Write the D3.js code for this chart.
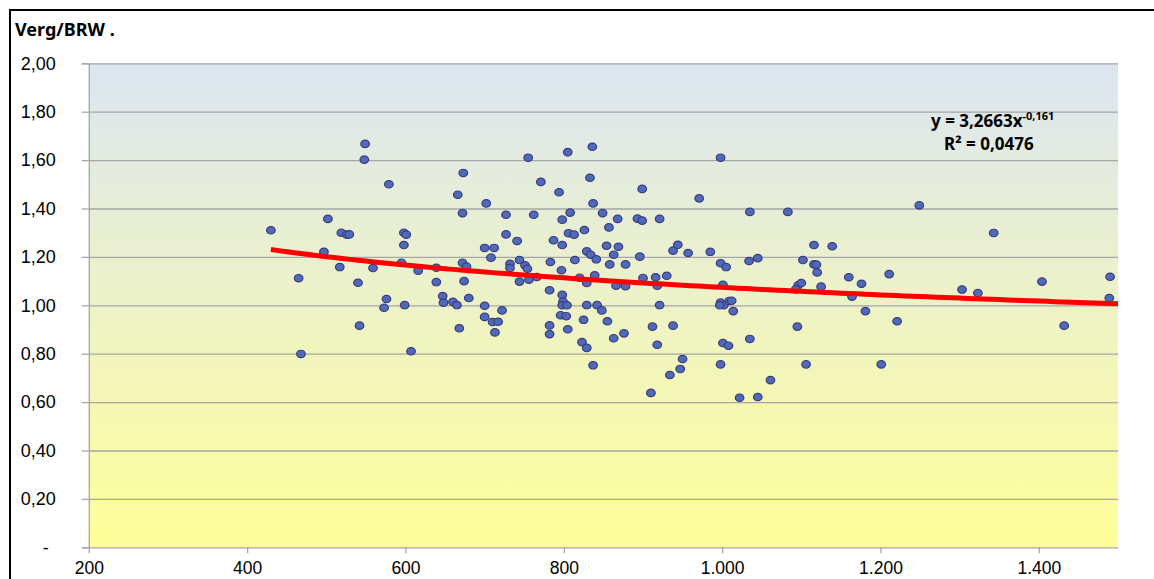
<!DOCTYPE html>
<html>
<head>
<meta charset="utf-8">
<script src="https://cdn.jsdelivr.net/npm/d3@7"></script>
<style>
  body { margin: 0; background: #fff; }
  svg { display: block; font-family: "Noto Sans", "Open Sans", sans-serif; }
</style>
</head>
<body>
<div id="chart"></div>
<script>
// x values
let xVals = [430, 549, 548, 579, 502, 519, 526, 529, 598, 601, 598, 497, 465, 517, 559, 540, 595, 616, 639, 639,
  576, 573, 599, 542, 468, 607, 673, 666, 672, 702, 700, 712, 708, 672, 677, 674, 680, 647, 648, 660,
  665, 668, 700, 700, 710, 717, 713, 722, 755, 805, 836, 998, 771, 794, 833, 899, 971, 837, 727, 762,
  808, 849, 798, 868, 893, 899, 921, 857, 826, 806, 813, 727, 741, 787, 798, 854, 869, 863, 829, 834,
  841, 938, 944, 957, 985, 896, 998, 1005, 744, 751, 754, 732, 732, 783, 814, 858, 878, 797, 756, 744,
  766, 820, 829, 839, 866, 878, 900, 916, 918, 930, 1001, 782, 798, 799, 798, 804, 829, 842, 848, 921,
  998, 1002, 997, 1009, 796, 803, 825, 855, 782, 782, 805, 912, 938, 863, 876, 823, 829, 918, 1001, 1008,
  837, 950, 947, 934, 910, 998, 1035, 1083, 1249, 1116, 1139, 1034, 1045, 1102, 1116, 1119, 1120, 1160, 1176, 1211,
  1096, 1100, 1093, 1125, 1164, 1012, 1014, 1181, 1095, 1221, 1035, 1106, 1201, 1061, 1022, 1045, 1343, 1303, 1323, 1404,
  1490, 1489, 1432];

// y values (Verg/BRW)
let yVals = [1.310, 1.667, 1.602, 1.500, 1.357, 1.300, 1.292, 1.293, 1.300, 1.292, 1.249, 1.221, 1.112, 1.158, 1.154, 1.093, 1.176, 1.143, 1.155, 1.096,
  1.026, 0.990, 1.001, 0.916, 0.799, 0.810, 1.547, 1.457, 1.381, 1.421, 1.237, 1.237, 1.197, 1.176, 1.160, 1.100, 1.030, 1.038, 1.011, 1.014,
  1.001, 0.905, 0.998, 0.952, 0.931, 0.932, 0.888, 0.979, 1.610, 1.633, 1.655, 1.610, 1.510, 1.467, 1.527, 1.481, 1.442, 1.421, 1.374, 1.374,
  1.383, 1.381, 1.354, 1.357, 1.358, 1.350, 1.357, 1.322, 1.311, 1.298, 1.292, 1.293, 1.266, 1.269, 1.249, 1.246, 1.242, 1.209, 1.223, 1.209,
  1.190, 1.226, 1.250, 1.216, 1.221, 1.201, 1.174, 1.158, 1.187, 1.165, 1.151, 1.171, 1.154, 1.179, 1.187, 1.169, 1.169, 1.145, 1.106, 1.098,
  1.117, 1.114, 1.092, 1.124, 1.081, 1.079, 1.113, 1.116, 1.081, 1.122, 1.085, 1.062, 1.043, 1.015, 1.000, 1.000, 1.001, 1.001, 0.979, 1.001,
  1.011, 1.000, 1.000, 1.018, 0.959, 0.955, 0.940, 0.934, 0.917, 0.881, 0.901, 0.912, 0.916, 0.864, 0.884, 0.848, 0.824, 0.837, 0.844, 0.833,
  0.752, 0.778, 0.737, 0.712, 0.638, 0.756, 1.386, 1.386, 1.413, 1.249, 1.244, 1.183, 1.195, 1.187, 1.169, 1.168, 1.136, 1.116, 1.089, 1.129,
  1.083, 1.092, 1.066, 1.077, 1.036, 1.019, 0.976, 0.976, 0.912, 0.934, 0.861, 0.756, 0.756, 0.691, 0.618, 0.621, 1.299, 1.065, 1.051, 1.098,
  1.118, 1.030, 0.916];

// tick values
let xTicks = [200, 400, 600, 800, 1000, 1200, 1400];
let yTicks = [0, 0.2, 0.4, 0.6, 0.8, 1.0, 1.2, 1.4, 1.6, 1.8, 2.0];

// power trendline y = a * x^b
let trendA = 3.2663;
let trendB = -0.161;

let W = 1154, H = 579;
let margin = { top: 63.3, right: 36, bottom: 31.7, left: 88.8 };
let width = W - margin.left - margin.right;
let height = H - margin.top - margin.bottom;

let svg = d3.select('#chart')
  .append('svg')
  .attr('width', W)
  .attr('height', H);

// outer frame (top and left edges show)
svg.append('line').attr('x1', 9).attr('x2', W).attr('y1', 10).attr('y2', 10)
  .attr('stroke', '#000').attr('stroke-width', 2);
svg.append('line').attr('x1', 10).attr('x2', 10).attr('y1', 9).attr('y2', H)
  .attr('stroke', '#000').attr('stroke-width', 2);

svg.append('text')
  .text('Verg/BRW .')
  .attr('x', 15)
  .attr('y', 36)
  .style('font-weight', 'bold')
  .style('font-size', '18px')
  .attr('fill', '#000');

// background gradient
let grad = svg.append('defs').append('linearGradient')
  .attr('id', 'bg').attr('x1', 0).attr('x2', 0).attr('y1', 0).attr('y2', 1);
grad.append('stop').attr('offset', '0%').attr('stop-color', '#dce6f2');
grad.append('stop').attr('offset', '100%').attr('stop-color', '#ffff99');

let g = svg.append('g')
  .attr('transform', `translate(${margin.left},${margin.top})`);

let x = d3.scaleLinear().domain([200, 1500]).range([0, width]);
let y = d3.scaleLinear().domain([0, 2]).range([height, 0]);

g.append('rect')
  .attr('width', width)
  .attr('height', height)
  .attr('fill', 'url(#bg)');

// gridlines
g.append('g')
  .call(d3.axisLeft(y).tickValues(yTicks.filter(v => v > 0)).tickSize(-width).tickFormat(''))
  .call(a => a.select('.domain').remove())
  .selectAll('line')
  .attr('stroke', '#a6a6a6')
  .attr('stroke-width', 1.3);

let locale = d3.formatLocale({ decimal: ',', thousands: '.', grouping: [3], currency: ['', ''] });
let fmtX = locale.format(',');
let fmtY = v => v === 0 ? '-' : locale.format('.2f')(v);

// y axis
let yAxis = g.append('g')
  .call(d3.axisLeft(y).tickValues(yTicks).tickSize(7).tickPadding(26).tickFormat(fmtY));
yAxis.selectAll('line, path').attr('stroke', '#a6a6a6').attr('stroke-width', 1.3);
yAxis.selectAll('text')
  .style('font-size', '18px')
  .attr('fill', '#000')
  .attr('dx', d => d === 0 ? -7 : 0);

// x axis
let xAxis = g.append('g')
  .attr('transform', `translate(0,${height})`)
  .call(d3.axisBottom(x).tickValues(xTicks).tickSize(6).tickSizeOuter(0).tickPadding(8).tickFormat(fmtX));
xAxis.selectAll('line, path').attr('stroke', '#a6a6a6').attr('stroke-width', 1.3);
xAxis.selectAll('text')
  .style('font-size', '17.5px')
  .attr('fill', '#000');

// points
let points = xVals.map((v, i) => ({ x: v, y: yVals[i] }));

g.selectAll('.dot')
  .data(points)
  .enter()
  .append('ellipse')
  .attr('class', 'dot')
  .attr('cx', d => x(d.x))
  .attr('cy', d => y(d.y))
  .attr('rx', 4.3)
  .attr('ry', 3.7)
  .attr('fill', '#4f6bb8')
  .attr('stroke', '#3b3a80')
  .attr('stroke-width', 1.2);

// trendline
let xMin = d3.min(xVals);
let trendX = d3.range(xMin, 1500.1, 10);
let line = d3.line()
  .x(d => x(d))
  .y(d => y(trendA * Math.pow(d, trendB)));

g.append('path')
  .datum(trendX)
  .attr('d', line)
  .attr('fill', 'none')
  .attr('stroke', '#ff0000')
  .attr('stroke-width', 5);

// equation label
let eq = svg.append('text')
  .attr('x', 931)
  .attr('y', 127)
  .style('font-weight', 'bold')
  .style('font-size', '17px')
  .attr('fill', '#000');
eq.append('tspan').text('y = 3,2663x');
eq.append('tspan').text('-0,161').attr('dy', -7).style('font-size', '11px');

svg.append('text')
  .text('R² = 0,0476')
  .attr('x', 944)
  .attr('y', 150)
  .style('font-weight', 'bold')
  .style('font-size', '17px')
  .attr('fill', '#000');
</script>
</body>
</html>
